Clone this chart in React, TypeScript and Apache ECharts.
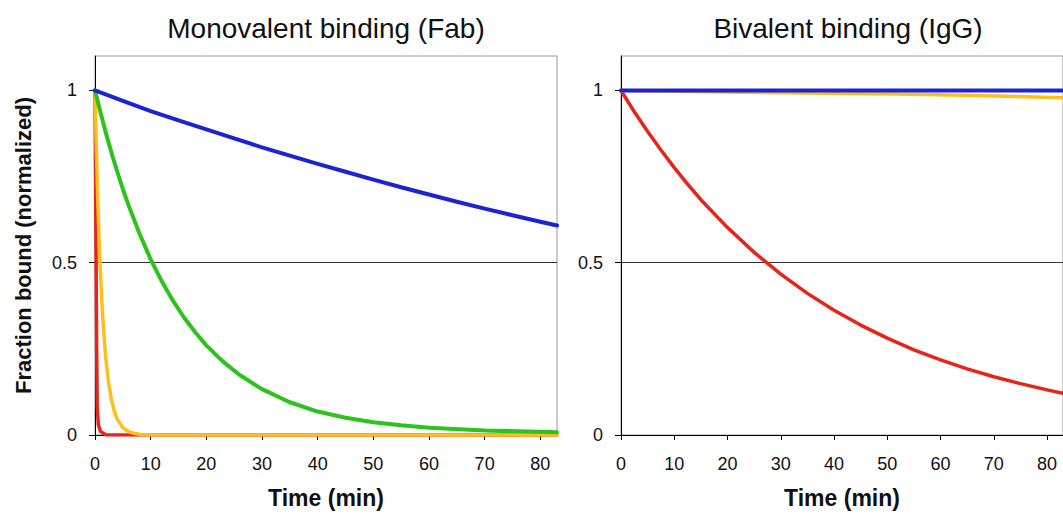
import React, { useEffect, useRef } from "react";
import * as echarts from "echarts";

// ---- Data ----
const titles = ["Monovalent binding (Fab)", "Bivalent binding (IgG)"];
const xTickValues = [0, 10, 20, 30, 40, 50, 60, 70, 80];
const yTickValues = [0, 0.5, 1];

// Left panel (Fab)
const fabRedT = [0, 0.1, 0.2, 0.3, 0.4, 0.6, 1, 2, 83];
const fabRedV = [1, 0.75, 0.5, 0.25, 0.08, 0.03, 0.01, 0, 0];
const fabOrangeT = [0, 0.25, 0.5, 0.75, 1, 1.25, 1.5, 1.75, 2, 2.5, 3, 3.5, 4, 5, 6, 7, 8, 10, 83];
const fabOrangeV = [1, 0.826, 0.68, 0.562, 0.463, 0.382, 0.315, 0.26, 0.214, 0.146, 0.099, 0.068, 0.046, 0.021, 0.01, 0.005, 0.002, 0, 0];
const fabGreenT = [0, 1, 2, 3, 4, 5, 6, 8, 10, 12, 14, 16, 18, 20, 23, 26, 30, 35, 40, 45, 50, 55, 60, 70, 83];
const fabGreenV = [1, 0.935, 0.874, 0.817, 0.764, 0.714, 0.668, 0.584, 0.51, 0.446, 0.39, 0.341, 0.298, 0.26, 0.213, 0.174, 0.133, 0.095, 0.068, 0.05, 0.037, 0.028, 0.021, 0.013, 0.008];
const fabBlueT = [0, 5, 10, 15, 20, 25, 30, 35, 40, 45, 50, 55, 60, 65, 70, 75, 80, 83];
const fabBlueV = [1, 0.97, 0.94, 0.913, 0.887, 0.861, 0.835, 0.811, 0.787, 0.764, 0.741, 0.719, 0.698, 0.677, 0.657, 0.638, 0.619, 0.608];

// Right panel (IgG)
const iggRedT = [0, 2.5, 5, 7.5, 10, 12.5, 15, 20, 25, 30, 35, 40, 45, 50, 55, 60, 65, 70, 75, 80, 83];
const iggRedV = [1, 0.938, 0.881, 0.827, 0.776, 0.728, 0.683, 0.602, 0.53, 0.467, 0.411, 0.362, 0.319, 0.281, 0.247, 0.218, 0.192, 0.169, 0.149, 0.131, 0.121];
const iggOrangeT = [0, 22, 52, 64, 76, 83];
const iggOrangeV = [1, 0.995, 0.99, 0.986, 0.982, 0.979];
const iggBlueT = [0, 20, 40, 60, 83];
const iggBlueV = [1, 1, 1, 1, 1];

const COLORS = {
  red: "#e8231a",
  orange: "#fcbf1e",
  green: "#2cc41c",
  blue: "#1a24d4",
};

const FONT = "'Liberation Sans', Arial, Helvetica, sans-serif";

const pairs = (t: number[], v: number[]) => t.map((x, i) => [x, v[i]]);

export default function App() {
  const ref = useRef<HTMLDivElement>(null);

  useEffect(() => {
    if (!ref.current) return;
    const chart = echarts.init(ref.current, null, { renderer: "svg" });

    const grids = [
      { left: 95, top: 56, width: 462, height: 382 },
      { left: 621, top: 56, width: 447, height: 382 },
    ];

    const makeX = (gi: number) => ({
      type: "value",
      gridIndex: gi,
      min: 0,
      max: 83,
      interval: 10,
      name: "Time (min)",
      nameLocation: "middle",
      nameGap: 51,
      nameTextStyle: { fontSize: 23, fontWeight: "bold", color: "#111", fontFamily: FONT },
      axisLine: { show: true, onZero: false, lineStyle: { color: "#000", width: 1 } },
      axisTick: { show: true, length: 5, customValues: xTickValues, lineStyle: { color: "#000" } },
      axisLabel: { fontSize: 18, color: "#111", margin: 20, fontFamily: FONT, customValues: xTickValues },
      splitLine: { show: false },
    });

    const makeY = (gi: number) => ({
      type: "value",
      gridIndex: gi,
      min: 0,
      max: 1.1,
      interval: 0.5,
      name: gi === 0 ? "Fraction bound (normalized)" : "",
      nameLocation: "middle",
      nameRotate: 90,
      nameGap: 61,
      nameTextStyle: { fontSize: 22, fontWeight: "bold", color: "#111", fontFamily: FONT },
      axisLine: { show: true, onZero: false, lineStyle: { color: "#000", width: 1 } },
      axisTick: { show: true, length: 6, customValues: yTickValues, lineStyle: { color: "#000" } },
      axisLabel: {
        fontSize: 18,
        color: "#111",
        margin: 18,
        fontFamily: FONT,
        customValues: yTickValues,
        formatter: (v: number) => String(v),
      },
      splitLine: { show: true, showMinLine: false, showMaxLine: false, lineStyle: { color: "#333", width: 1 } },
    });

    const line = (name: string, color: string, data: number[][], gi: number, width = 4) => ({
      type: "line",
      name,
      xAxisIndex: gi,
      yAxisIndex: gi,
      data,
      showSymbol: false,
      symbol: "none",
      smooth: false,
      lineStyle: { color, width, join: "round", cap: "round" },
      itemStyle: { color },
      clip: true,
    });

    chart.setOption({
      animation: false,
      backgroundColor: "#fff",
      grid: grids.map((g) => ({ ...g, show: true, borderColor: "#999", borderWidth: 1, backgroundColor: "transparent" })),
      xAxis: [makeX(0), makeX(1)],
      yAxis: [makeY(0), makeY(1)],
      graphic: [
        {
          type: "text",
          x: 326,
          y: 28,
          style: { text: titles[0], fontSize: 28, fontFamily: FONT, fill: "#111", align: "center", verticalAlign: "middle" },
        },
        {
          type: "text",
          x: 848,
          y: 28,
          style: { text: titles[1], fontSize: 28, fontFamily: FONT, fill: "#111", align: "center", verticalAlign: "middle" },
        },
      ],
      series: [
        line("Fab red", COLORS.red, pairs(fabRedT, fabRedV), 0, 3.5),
        line("Fab orange", COLORS.orange, pairs(fabOrangeT, fabOrangeV), 0, 3.5),
        line("Fab green", COLORS.green, pairs(fabGreenT, fabGreenV), 0),
        line("Fab blue", COLORS.blue, pairs(fabBlueT, fabBlueV), 0),
        line("IgG red", COLORS.red, pairs(iggRedT, iggRedV), 1, 3.5),
        line("IgG orange", COLORS.orange, pairs(iggOrangeT, iggOrangeV), 1, 3.5),
        line("IgG blue", COLORS.blue, pairs(iggBlueT, iggBlueV), 1),
      ],
    });

    return () => chart.dispose();
  }, []);

  return (
    <div
      ref={ref}
      style={{ position: "fixed", left: 0, top: 0, width: 1063, height: 514, background: "#fff" }}
    />
  );
}
